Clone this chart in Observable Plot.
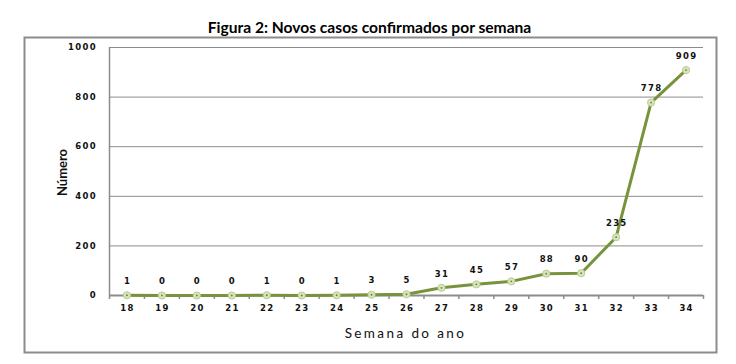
<!DOCTYPE html>
<html>
<head>
<meta charset="utf-8">
<script src="https://cdn.jsdelivr.net/npm/d3@7"></script>
<script src="https://cdn.jsdelivr.net/npm/@observablehq/plot@0.6"></script>
<style>
  html, body { margin: 0; padding: 0; background: #fff; }
  svg { display: block; }
  g[font-family="DejaVu Sans"] text { letter-spacing: 1.3px; }
  g[font-family="Lato"][font-size="13.5"] text { letter-spacing: 2.4px; }
</style>
</head>
<body>
<div id="chart"></div>
<script>
const weeks = ["18","19","20","21","22","23","24","25","26","27","28","29","30","31","32","33","34"];
const cases = [1,0,0,0,1,0,1,3,5,31,45,57,88,90,235,778,909];
const yTicks = [0,200,400,600,800,1000];
const title = "Figura 2: Novos casos confirmados por semana";
const xLabel = "Semana do ano";
const yLabel = "Número";

const data = weeks.map((w, i) => ({week: w, value: cases[i]}));
const tickFont = "DejaVu Sans";

const chart = Plot.plot({
  width: 736,
  height: 364,
  marginTop: 47,
  marginLeft: 109,
  marginRight: 33,
  marginBottom: 69,
  style: {fontFamily: "DejaVu Sans, sans-serif", background: "#fff", overflow: "visible"},
  x: {type: "point", domain: weeks, padding: 0.5, round: false, label: null, axis: null},
  y: {domain: [0, 1000], label: null, axis: null},
  marks: [
    // outer box
    Plot.frame({stroke: "#8c8c8c", strokeWidth: 2, insetLeft: -85, insetTop: -10, insetRight: -13, insetBottom: -57}),
    // title
    Plot.text([title], {frameAnchor: "top", lineAnchor: "middle", dx: -37, dy: -20, fontFamily: "Lato", fontWeight: "bold", fontSize: 15.6, fill: "#000"}),
    // gridlines
    Plot.ruleY(yTicks.filter(d => d > 0), {stroke: "#8c8c8c", strokeWidth: 1}),
    // y axis line
    Plot.ruleX([weeks[0]], {dx: -17.47, y1: 0, y2: 1000, stroke: "#8c8c8c", strokeWidth: 1.5}),
    // y ticks
    Plot.ruleY(yTicks, {x1: weeks[0], x2: weeks[0], dx: -17.47, insetLeft: -6, stroke: "#8c8c8c", strokeWidth: 1}),
    // x axis line
    Plot.ruleY([0], {stroke: "#8c8c8c", strokeWidth: 2}),
    // x ticks at band boundaries
    Plot.ruleX(weeks, {y1: 0, y2: 0, dx: -17.47, stroke: "#8c8c8c", strokeWidth: 1.5, insetBottom: -4}),
    Plot.ruleX([weeks[weeks.length - 1]], {y1: 0, y2: 0, dx: 17.47, stroke: "#8c8c8c", strokeWidth: 1.5, insetBottom: -4}),
    // y tick labels
    Plot.text(yTicks, {x: () => weeks[0], y: d => d, text: d => String(d), dx: -30, textAnchor: "end", fontFamily: tickFont, fontWeight: "bold", fontSize: 8.5, fill: "#111"}),
    // x tick labels
    Plot.text(weeks, {x: d => d, frameAnchor: "bottom", dy: 15, dx: 0.6, text: d => d, fontFamily: tickFont, fontWeight: "bold", fontSize: 8.5, fill: "#111"}),
    // x label
    Plot.text([xLabel], {frameAnchor: "bottom", dx: -1, dy: 38, lineAnchor: "middle", fontFamily: "Lato", fontSize: 13.5, fill: "#111"}),
    // y label
    Plot.text([yLabel], {frameAnchor: "left", dx: -47, dy: 1, rotate: -90, textAnchor: "middle", lineAnchor: "middle", fontFamily: "Lato", fontWeight: "bold", fontSize: 13, fill: "#111"}),
    // line
    Plot.line(data, {x: "week", y: "value", stroke: "#77933c", strokeWidth: 3}),
    Plot.dot(data, {x: "week", y: "value", r: 3.6, fill: "#d7e4bd", stroke: "#b9cf8c", strokeWidth: 1}),
    Plot.dot(data, {x: "week", y: "value", r: 0.9, fill: "#6b7f3a"}),
    // value labels
    Plot.text(data, {x: "week", y: "value", text: d => String(d.value), dy: -14, dx: 0.6, fontFamily: tickFont, fontWeight: "bold", fontSize: 8.5, fill: "#111"})
  ]
});
document.getElementById("chart").append(chart);
</script>
</body>
</html>
